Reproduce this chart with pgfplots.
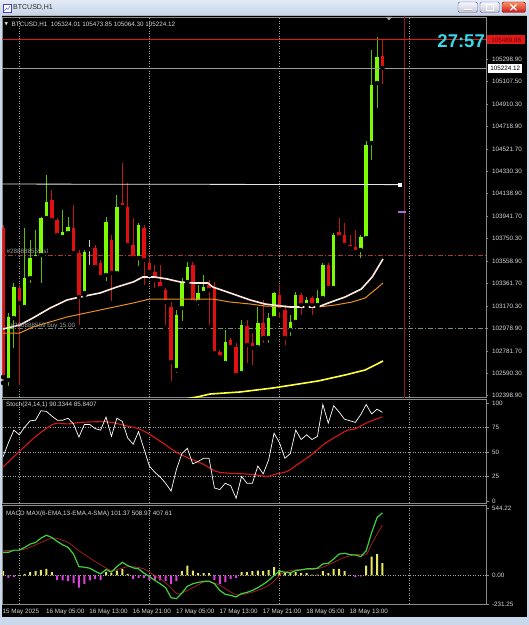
\documentclass[border=0pt]{standalone}
\usepackage{fontspec}
\setmainfont{Liberation Sans}
\newfontfamily\sym{DejaVu Sans}
\usepackage{pgfplots}
\usepackage{pgfplotstable}
\pgfplotsset{compat=1.18}

\definecolor{winbg}{HTML}{C9D8EB}
\definecolor{tbtop}{HTML}{E3ECF7}
\definecolor{tbbot}{HTML}{C3D3E8}
\definecolor{bullc}{HTML}{7CFC00}
\definecolor{bullw}{HTML}{62B82A}
\definecolor{bearc}{HTML}{E01010}
\definecolor{bearw}{HTML}{C01818}
\definecolor{mawhite}{HTML}{FFE9E0}
\definecolor{maorange}{HTML}{E8901E}
\definecolor{mayellow}{HTML}{FFFF3A}
\definecolor{stsig}{HTML}{D81818}
\definecolor{macdg}{HTML}{3CD23C}
\definecolor{macds}{HTML}{B02020}
\definecolor{histy}{HTML}{E8E860}
\definecolor{histm}{HTML}{E040E0}
\definecolor{timer}{HTML}{38D8E8}
\definecolor{askred}{HTML}{E01818}
\definecolor{slred}{HTML}{A83838}
\definecolor{entryc}{HTML}{789078}
\definecolor{purp}{HTML}{B468E0}
\definecolor{txt}{HTML}{D8D8D8}
\definecolor{framec}{HTML}{8A8A8A}
\definecolor{vred}{HTML}{8E1A1A}

\newcommand\tk{\fontsize{6.3}{7}\selectfont}

\pgfplotstableread{
i o h l c
1 102530.9 103109.1 102461.9 103074.6
2 103066.0 103368.0 102789.8 103333.5
4 103160.9 103842.7 103135.0 103411.2
5 103411.2 103739.1 103350.7 103583.8
6 103583.8 103825.4 103566.5 103609.6
7 103609.6 103937.6 103350.7 103929.0
8 103929.0 104300.0 103911.7 104067.0
11 103765.0 103998.0 103739.1 103808.1
12 103799.5 103937.6 103773.6 103851.3
15 103281.7 103652.8 103264.4 103635.5
19 103437.1 103937.6 103368.0 103894.4
21 103454.3 104127.5 103419.8 104023.9
25 103583.8 103885.8 103497.5 103868.6
32 102617.2 103135.0 102574.1 103091.9
33 103152.3 103411.2 103022.8 103368.0
34 103376.6 103549.2 103350.7 103506.1
36 103204.0 103350.7 103160.9 103281.7
37 103281.7 103437.1 103264.4 103333.5
41 102677.6 102962.4 102643.1 102858.8
44 102591.3 103048.7 102574.1 103005.6
47 102815.7 103160.9 102789.8 103022.8
49 102893.4 103109.1 102833.0 103066.0
50 103066.0 103290.3 103048.7 103281.7
53 102962.4 103091.9 102893.4 103031.4
54 103031.4 103290.3 103005.6 103264.4
56 103178.2 103247.2 103160.9 103221.3
58 103178.2 103307.6 103160.9 103238.6
59 103238.6 103540.6 103221.3 103523.3
61 103324.9 103799.5 103307.6 103782.2
66 103652.8 103782.2 103566.5 103765.0
67 103756.4 104593.5 103721.8 104559.0
68 104576.2 105378.8 104412.2 105076.8
69 105094.0 105491.0 104861.0 105318.4
}\bull

\pgfplotstableread{
i o h l c
0 103842.7 103868.6 102505.0 102556.8
3 103324.9 103350.7 102470.0 103195.4
9 104084.3 104170.6 103894.4 103911.7
10 103911.7 103929.0 103756.4 103782.2
13 103842.7 104041.1 103609.6 103626.9
14 103626.9 103652.8 102988.3 103247.2
17 103670.1 103695.9 103480.2 103506.1
18 103540.6 103566.5 103393.9 103419.8
20 103739.1 103782.2 103195.4 103454.3
22 104058.4 104403.6 103998.0 104023.9
23 104023.9 104231.0 103678.7 103695.9
24 103695.9 103929.0 103566.5 103583.8
26 103842.7 103868.6 103333.5 103566.5
27 103540.6 103583.8 103437.1 103462.9
28 103462.9 103523.3 103307.6 103393.9
29 103376.6 103523.3 103290.3 103324.9
30 103307.6 103324.9 102988.3 103204.0
31 103160.9 103204.0 102505.0 102686.2
35 103523.3 103549.2 103178.2 103204.0
38 103350.7 103393.9 102988.3 103307.6
39 103324.9 103376.6 102729.4 102763.9
40 102772.5 102789.8 102703.5 102729.4
42 102876.1 102893.4 102789.8 102815.7
43 102815.7 102850.2 102548.2 102574.1
45 102996.9 103048.7 102660.3 102833.0
46 102850.2 102936.5 102643.1 102807.1
48 103022.8 103221.3 102833.0 102893.4
51 103264.4 103350.7 103048.7 103135.0
52 103135.0 103178.2 102815.7 102893.4
55 103264.4 103281.7 103074.6 103178.2
57 103238.6 103255.8 103074.6 103178.2
60 103523.3 103540.6 103307.6 103324.9
62 103808.1 103929.0 103739.1 103765.0
63 103782.2 103885.8 103670.1 103695.9
64 103695.9 103782.2 103652.8 103670.1
65 103678.7 103825.4 103626.9 103635.5
70 105324.01 105473.85 105064.30 105224.12
}\bear

\pgfplotstableread{
i o h l c
16 103670.1 103739.1 103506.1 103661.4
}\doji

\pgfplotstableread{
k v
0 45.2
1 59.5
2 72.3
3 67.5
4 75.4
5 81.8
6 82.4
7 92
8 91.4
9 86.6
10 82.4
11 82.4
12 84.4
13 78.6
14 65.2
15 78
16 78
17 73.8
18 72.3
19 85.6
20 65.9
21 84.4
22 81.2
23 64.3
24 57.9
25 70.7
26 53.2
27 35.6
28 29.3
29 24.5
30 18.1
31 10.2
32 32.4
33 48.4
34 53.8
35 37.9
36 40.4
37 43.6
38 43.6
39 13.3
40 11.7
41 18.1
42 15.6
43 2.8
44 25.1
45 18.1
46 18.1
47 35.6
48 27.7
49 42
50 69.1
51 59.5
52 43.6
53 48.4
54 72.3
55 62.7
56 67.5
57 62.7
58 65.9
59 98.4
60 79.3
61 97.1
62 90.7
63 83.4
64 81.8
65 80.2
66 88.2
67 98.4
68 88.8
69 93.6
70 90.33
}\stmain

\pgfplotstableread{
k v
0 34.7
2.9 50
5.7 64.3
8.2 74.8
9.8 79.3
12 78.6
14.4 80.2
18.2 80.9
20 80.2
22.5 77
25 73.8
26.9 68.4
29.4 59.5
31.9 50
34.3 43.6
36.8 37.9
39.3 30.2
41.8 28.3
44.3 27.7
46.2 27
48.7 25.1
50.5 27.7
52.4 30.2
54.3 37.2
56.8 46.8
59.2 57.9
61.7 66.5
63.6 72.3
64.8 73.2
67.3 80.2
70 85.84
}\stsigt

\pgfplotstableread{
k v
0 188
1 188
2 206
3 206
4 228
5 255
6 268
7 303
8 327
9 308
10 276
11 249
12 228
13 174
14 72
15 67
16 59
17 35
18 13
19 48
20 27
21 72
22 107
23 80
24 62
25 54
26 19
27 -8
28 -40
29 -67
30 -99
31 -180
32 -188
33 -142
34 -88
35 -67
36 -56
37 -48
38 -46
39 -67
40 -121
41 -153
42 -161
43 -174
44 -147
45 -137
46 -121
47 -99
48 -72
49 -40
50 0
51 35
52 27
53 21
54 40
55 46
56 54
57 54
58 59
59 94
60 99
61 134
62 174
63 180
64 169
65 166
66 153
67 201
68 348
69 469
70 508.97
}\macdt

\pgfplotstableread{
k v
0 206
2 201
4 214
6 249
8 287
9 303
10 300
12 268
14 201
16 142
18 86
20 40
21 48
23 72
24 72
26 54
27 27
29 -27
31 -99
32 -147
33 -142
35 -99
37 -54
38 -46
40 -80
42 -134
43 -155
44 -155
45 -147
47 -121
49 -80
50 -46
51 0
52 27
54 46
56 46
58 54
59 67
61 107
63 147
65 169
66 169
67 169
68 255
69 335
70 407.61
}\sigt

\pgfplotstableread{
k v
0 35
3 3
4 13
5 27
6 35
7 46
8 54
9 27
19 27
20 19
21 40
22 54
23 13
33 35
34 80
35 40
36 19
37 19
38 19
44 27
45 27
46 35
47 40
48 35
49 46
50 67
51 46
52 19
53 19
54 27
55 19
56 19
57 8
58 8
59 35
60 19
61 54
62 54
63 35
64 5
67 80
68 153
69 174
70 101.37
}\histpos

\pgfplotstableread{
k v
1 -19
2 -13
10 -35
11 -40
12 -46
13 -62
14 -99
15 -67
16 -40
17 -27
18 -35
24 -29
25 -19
26 -19
27 -35
28 -40
29 -40
30 -46
31 -67
32 -46
39 -35
40 -67
41 -54
42 -27
43 -19
65 -13
66 -8
}\histneg

\pgfplotsset{
  mt/.style={
    scale only axis, width=483.5pt, xmin=-0.1, xmax=89.1,
    axis line style={draw=framec, line width=0.7pt},
    ytick pos=right, yticklabel pos=right,
    tick align=outside, major tick length=2.5pt,
    ytick style={draw=framec, line width=0.5pt},
    xtick style={draw=none},
    ticklabel style={font=\tk, text=txt},
    scaled y ticks=false,
    grid style={draw=gray!70, dash pattern=on 1pt off 1.5pt, line width=0.5pt},
  },
  gridl/.style={draw=gray!70, dash pattern=on 1pt off 1.5pt, line width=0.5pt},
  cwick/.style={only marks, mark=none, forget plot, error bars/.cd, y dir=plus, y explicit, error mark=none, error bar style={draw=#1, line width=0.8pt}},
  cbody/.style={only marks, mark=none, forget plot, error bars/.cd, y dir=plus, y explicit, error mark=none, error bar style={draw=#1, line width=3.5pt}},
}

\begin{document}
\begin{tikzpicture}[x=1pt,y=1pt]
% window chrome
\fill[winbg] (0,0) rectangle (529,625);
\shade[top color=tbtop, bottom color=tbbot] (0,609) rectangle (529,625);
\fill[black] (2,8) rectangle (526.5,609.5);
\draw[gray!60] (2,609.5) -- (526.5,609.5);
% title icon
\fill[white] (3.5,612.5) rectangle (11,620.5);
\draw[blue!50!gray, line width=0.4pt] (3.5,612.5) rectangle (11,620.5);
\draw[blue!60, line width=0.5pt] (4.5,614) -- (6.5,617) -- (8,615.5) -- (10,619);
\node[anchor=west, inner sep=0, text=black!85, font=\fontsize{7}{8}\selectfont] at (13,617.3) {BTCUSD,H1};
% buttons
\shade[top color=white!85!blue!20, bottom color=blue!12!gray!40, rounded corners=1.5pt] (458,612.5) rectangle (477.5,623);
\draw[gray!70!blue, rounded corners=1.5pt, line width=0.4pt] (458,612.5) rectangle (477.5,623);
\draw[white, line width=1.3pt] (464,615.3) -- (471.5,615.3);
\draw[gray!60, line width=0.3pt] (464,614.4) -- (471.5,614.4);
\shade[top color=white!85!blue!20, bottom color=blue!12!gray!40, rounded corners=1.5pt] (480,612.5) rectangle (499.5,623);
\draw[gray!70!blue, rounded corners=1.5pt, line width=0.4pt] (480,612.5) rectangle (499.5,623);
\draw[white, line width=0.9pt] (486.5,614.6) rectangle (493,620.5);
\shade[top color=red!45!orange!60, bottom color=red!75!black!90, rounded corners=1.5pt] (502,612.5) rectangle (525.5,623);
\draw[red!50!black, rounded corners=1.5pt, line width=0.4pt] (502,612.5) rectangle (525.5,623);
\draw[white, line width=1.2pt] (510.5,614.8) -- (516.5,620.5) (510.5,620.5) -- (516.5,614.8);

% ---------------- main chart ----------------
\begin{axis}[mt, at={(2.5pt,608pt)}, anchor=north west, height=380pt,
  ymin=102384.2, ymax=105663.6,
  ytick={102398.90,102590.30,102781.70,102978.90,103170.30,103361.70,103558.90,103750.30,103941.70,104138.90,104330.30,104521.70,104718.90,104910.30,105107.50,105298.90},
  yticklabels={102398.90,102590.30,102781.70,102978.90,103170.30,103361.70,103558.90,103750.30,103941.70,104138.90,104330.30,104521.70,104718.90,104910.30,105107.50,105298.90},
  xtick={3,27,51,75}, xticklabels={}, xmajorgrids]
\addplot[vred, line width=0.8pt] coordinates {(74,102000) (74,106000)};
\addplot[slred, line width=0.6pt, dash pattern=on 5pt off 2pt on 1pt off 2pt] coordinates {(-1,103609.6) (90,103609.6)};
\addplot[entryc, line width=0.6pt, dash pattern=on 5pt off 2pt on 1pt off 2pt] coordinates {(-1,102975) (90,102975)};
% candles
\addplot[cwick=bullc!75!black] table[x=i, y=l, y error plus expr=\thisrow{h}-\thisrow{l}] {\bull};
\addplot[cbody=bullc] table[x=i, y=o, y error plus expr=\thisrow{c}-\thisrow{o}] {\bull};
\addplot[cwick=bearw] table[x=i, y=l, y error plus expr=\thisrow{h}-\thisrow{l}] {\bear};
\addplot[cbody=bearc] table[x=i, y=c, y error plus expr=\thisrow{o}-\thisrow{c}] {\bear};
\addplot[cwick=gray!40!white] table[x=i, y=l, y error plus expr=\thisrow{h}-\thisrow{l}] {\doji};
\addplot[cbody=gray!20!white] table[x=i, y=c, y error plus expr=\thisrow{o}-\thisrow{c}] {\doji};
% moving averages
\addplot[mayellow, line width=1.6pt] coordinates {(33.6,102367) (35.8,102384.2) (38.2,102410.1) (43.7,102427.4) (49.8,102461.9) (58.1,102522.3) (63.1,102574.1) (66.8,102617.2) (70.1,102694.9)};
\addplot[maorange, line width=1pt] coordinates {(0,102936.5) (3.1,102936.5) (5.5,102988.3) (11.8,103074.6) (17.9,103135.0) (24.0,103195.4) (27.1,103229.9) (30.3,103229.9) (38.7,103229.9) (41.9,103204.0) (45.6,103186.8) (48.3,103169.5) (53.0,103160.9) (58.1,103160.9) (61.3,103178.2) (64.4,103204.0) (66.8,103238.6) (68.6,103307.6) (70.1,103368.0)};
\addplot[mawhite, line width=1.6pt] coordinates {(0,102971.0) (3.1,103005.6) (5.5,103066.0) (8.7,103152.3) (11.8,103221.3) (14.2,103247.2) (17.9,103281.7) (21.0,103333.5) (24.0,103376.6) (25.8,103419.8) (28.0,103419.8) (30.3,103402.5) (32.7,103376.6) (35.1,103368.0) (37.8,103368.0) (38.7,103333.5) (41.9,103281.7) (45.6,103221.3) (48.3,103186.8) (49.8,103178.2) (53.0,103160.9) (55.2,103160.9) (58.1,103160.9) (60.0,103195.4) (63.1,103247.2) (66.1,103316.2) (68.1,103419.8) (70.1,103575.2)};
% objects
\addplot[askred, line width=0.6pt] coordinates {(-1,105470) (90,105470)};
\addplot[gray!80, line width=0.6pt] coordinates {(-1,105224.12) (90,105224.12)};
\addplot[white!90!black, line width=0.8pt] coordinates {(-1,104222) (73.2,104217)};
\addplot[only marks, mark=square*, mark size=1.3pt, white] coordinates {(73.2,104217)};
\addplot[purp, line width=2pt] coordinates {(72.9,103983) (74.3,103983)};
\end{axis}

% ---------------- stochastic ----------------
\begin{axis}[mt, at={(2.5pt,226pt)}, anchor=north west, height=104pt,
  ymin=-2, ymax=104, ytick={0,25,50,75,100}, yticklabels={0,25,50,75,100},
  xtick={3,27,51,75}, xticklabels={}, xmajorgrids]
\addplot[gridl] coordinates {(-1,25) (90,25)};
\addplot[gridl] coordinates {(-1,50) (90,50)};
\addplot[gridl] coordinates {(-1,75) (90,75)};
\addplot[stsig, line width=1.1pt, smooth] table[x=k, y=v] {\stsigt};
\addplot[white, line width=0.7pt] table[x=k, y=v] {\stmain};
\end{axis}

% ---------------- MACD ----------------
\begin{axis}[mt, at={(2.5pt,120pt)}, anchor=north west, height=99pt,
  ymin=-231.25, ymax=572, ytick={-231.25,0,544.22}, yticklabels={-231.25,0.00,544.22},
  xtick={0,8,16,24,32,40,48,56,64},
  xticklabels={15 May 2025,16 May 05:00,16 May 13:00,16 May 21:00,17 May 05:00,17 May 13:00,17 May 21:00,18 May 05:00,18 May 13:00},
  xticklabel style={anchor=north west, xshift=-1.5pt, yshift=-1pt, inner sep=1pt},
  extra x ticks={3,27,51,75}, extra x tick labels={}, extra x tick style={grid=major}]
\addplot[gridl] coordinates {(-1,0) (90,0)};
\addplot[ybar, bar width=2pt, bar shift=0pt, fill=histy, draw=none] table[x=k, y=v] {\histpos};
\addplot[ybar, bar width=2pt, bar shift=0pt, fill=histm, draw=none] table[x=k, y=v] {\histneg};
\addplot[macds, line width=0.7pt, smooth] table[x=k, y=v] {\sigt};
\addplot[macdg, line width=1.2pt] table[x=k, y=v] {\macdt};
\end{axis}

% ---------------- texts ----------------
\node[anchor=west, inner sep=0, text=txt, font=\sym\fontsize{4.5}{5}\selectfont] at (4.5,600.3) {▼};
\node[anchor=west, inner sep=0, text=txt, font=\tk] at (11.5,600) {BTCUSD,H1\ \ 105324.01 105473.85 105064.30 105224.12};
\node[anchor=west, inner sep=0, text=txt, font=\tk] at (6,220) {Stoch(24,14,1) 90.3344 85.8407};
\node[anchor=west, inner sep=0, text=txt, font=\tk] at (6,111.5) {MACD MAX(6-EMA,13-EMA,4-SMA) 101.37 508.97 407.61};
\node[anchor=west, inner sep=0, text=gray!75!white, font=\tk] at (6.5,373.5) {\#288888559 sl};
\node[anchor=west, inner sep=0, text=gray!75!white, font=\tk] at (10.5,299.5) {\#288888559 buy 15.00};
\fill[gray!70] (386,608) -- (392,608) -- (389,604.5) -- cycle;
\node[anchor=east, inner sep=0, text=timer, font=\fontsize{18.5}{20}\selectfont\bfseries] at (485,584) {27:57};
\node[anchor=west, fill=askred, text=red!45!black, inner sep=0.5pt, minimum width=38pt, minimum height=9pt, font=\tk] at (487,585) {105489.88};
\node[anchor=west, fill=white, text=black, inner sep=0.5pt, minimum width=34pt, minimum height=8.5pt, font=\tk] at (488,556.7) {105224.12};
\end{tikzpicture}
\end{document}
